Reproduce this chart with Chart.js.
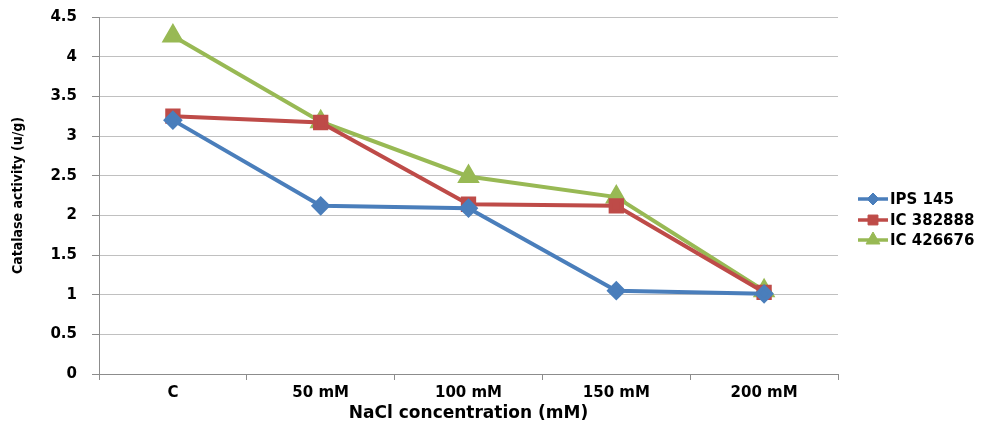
<!DOCTYPE html>
<html>
<head>
<meta charset="utf-8">
<script src="https://cdn.jsdelivr.net/npm/chart.js@4"></script>
<style>
  html, body { margin: 0; padding: 0; background: #fff; }
  #wrap { width: 983px; height: 428px; position: relative; }
</style>
</head>
<body>
<div id="wrap"><canvas id="chart" width="983" height="428"></canvas></div>
<script>
const categories = ['C', '50 mM', '100 mM', '150 mM', '200 mM'];
const ips145 = [3.2, 2.12, 2.09, 1.05, 1.01];
const ic382888 = [3.25, 3.17, 2.14, 2.12, 1.03];
const ic426676 = [4.26, 3.18, 2.49, 2.23, 1.05];
const yTicks = [0, 0.5, 1, 1.5, 2, 2.5, 3, 3.5, 4, 4.5];

const tickFont = { family: 'DejaVu Sans', weight: 'bold', size: 15 };

// legend drawn with line + marker like the office chart
const lineLegend = {
    id: 'lineLegend',
    afterDraw(chart) {
        const ctx = chart.ctx;
        const x0 = 858, x1 = 888, textX = 890;
        const rows = [199, 220, 240];
        chart.data.datasets.forEach((ds, i) => {
            const y = rows[i];
            ctx.save();
            ctx.strokeStyle = ds.borderColor;
            ctx.fillStyle = ds.borderColor;
            ctx.lineWidth = 3.5;
            ctx.beginPath();
            ctx.moveTo(x0, y);
            ctx.lineTo(x1, y);
            ctx.stroke();
            ctx.lineWidth = 1;
            Chart.helpers.drawPoint(ctx, {
                pointStyle: ds.pointStyle,
                radius: ds.pointRadius - 1,
                borderWidth: 1
            }, (x0 + x1) / 2, y);
            ctx.fillStyle = '#000';
            ctx.font = 'bold 15px "DejaVu Sans"';
            ctx.textBaseline = 'middle';
            ctx.fillText(ds.label, textX, y + 1);
            ctx.restore();
        });
    }
};

function series(label, data, color, style, radius) {
    return {
        label: label,
        data: data,
        borderColor: color,
        backgroundColor: color,
        pointBackgroundColor: color,
        pointBorderColor: color,
        borderWidth: 4,
        pointStyle: style,
        pointRadius: radius,
        pointHoverRadius: radius,
        tension: 0
    };
}

new Chart(document.getElementById('chart').getContext('2d'), {
    type: 'line',
    data: {
        labels: categories,
        datasets: [
            series('IPS 145', ips145, '#4a7ebb', 'rectRot', 7),
            series('IC 382888', ic382888, '#be4b48', 'rect', 8),
            series('IC 426676', ic426676, '#98b954', 'triangle', 9)
        ]
    },
    options: {
        responsive: false,
        animation: false,
        layout: { padding: { top: 17, right: 145, left: 0, bottom: 0 } },
        plugins: {
            legend: { display: false },
            tooltip: { enabled: false }
        },
        scales: {
            x: {
                offset: true,
                grid: {
                    offset: true,
                    drawOnChartArea: false,
                    drawTicks: true,
                    tickLength: 6,
                    color: '#8c8c8c'
                },
                border: { color: '#8c8c8c', width: 1 },
                ticks: { font: tickFont, color: '#000', padding: 4, maxRotation: 0 },
                title: {
                    display: true,
                    text: 'NaCl concentration (mM)',
                    font: { family: 'DejaVu Sans', weight: 'bold', size: 17 },
                    color: '#000',
                    padding: { top: 6 }
                },
                afterFit(scale) { scale.height = 54; }
            },
            y: {
                min: 0,
                max: 4.5,
                afterBuildTicks(scale) { scale.ticks = yTicks.map(v => ({ value: v })); },
                grid: {
                    color: '#c0c0c0',
                    tickColor: '#8c8c8c',
                    tickLength: 7,
                    lineWidth: 1
                },
                border: { color: '#8c8c8c', width: 1 },
                ticks: {
                    font: tickFont,
                    color: '#000',
                    padding: 15,
                    callback: v => String(v)
                },
                title: {
                    display: true,
                    text: 'Catalase activity (u/g)',
                    font: { family: '"Liberation Sans Narrow", "DejaVu Sans Condensed", sans-serif', weight: 'bold', size: 14 },
                    color: '#000',
                    padding: { top: 10, bottom: 4 }
                },
                afterFit(scale) {
                    scale.width = 99;
                    scale.paddingTop = 0;
                    scale.paddingBottom = 0;
                }
            }
        }
    },
    plugins: [lineLegend]
});
</script>
</body>
</html>
